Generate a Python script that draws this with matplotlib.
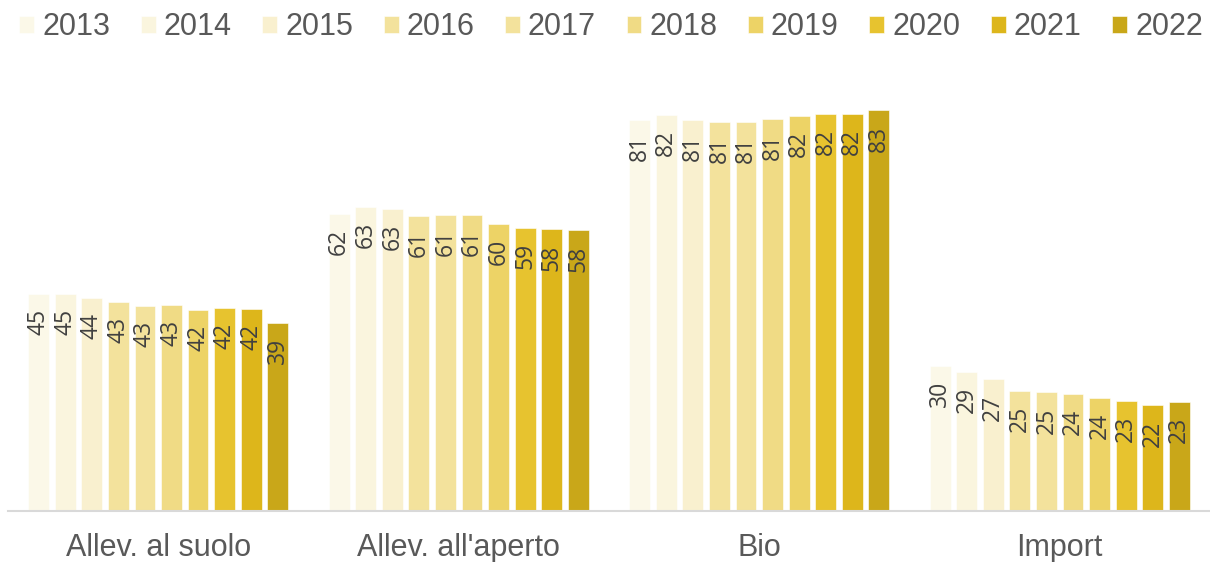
import matplotlib.pyplot as plt
import numpy as np

# categories and years
categories = ['Allev. al suolo', "Allev. all'aperto", 'Bio', 'Import']
years = ['2013', '2014', '2015', '2016', '2017', '2018', '2019', '2020', '2021', '2022']

# values (bar heights), labels are the rounded numbers
suolo = [45.0, 45.0, 44.1, 43.4, 42.5, 42.7, 41.7, 42.2, 41.9, 39.1]
aperto = [61.7, 63.1, 62.7, 61.3, 61.5, 61.5, 59.6, 58.7, 58.4, 58.2]
bio = [81.2, 82.1, 81.2, 80.8, 80.8, 81.4, 81.9, 82.4, 82.4, 83.1]
imp = [30.1, 28.8, 27.3, 24.9, 24.6, 24.2, 23.5, 22.8, 21.9, 22.6]

suolo_lbl = [45, 45, 44, 43, 43, 43, 42, 42, 42, 39]
aperto_lbl = [62, 63, 63, 61, 61, 61, 60, 59, 58, 58]
bio_lbl = [81, 82, 81, 81, 81, 81, 82, 82, 82, 83]
imp_lbl = [30, 29, 27, 25, 25, 24, 24, 23, 22, 23]

colors = ['#FBF8E8', '#FAF5DE', '#F9F0CF', '#F3E29C', '#F3E29C',
          '#F0DB85', '#EDD366', '#E7C32F', '#DDB61B', '#C9A719']

values = np.array([suolo, aperto, bio, imp])
labels = np.array([suolo_lbl, aperto_lbl, bio_lbl, imp_lbl])

plt.rcParams['font.family'] = ['Liberation Sans', 'DejaVu Sans']

fig = plt.figure(figsize=(12.1, 5.62), dpi=100)
ax = fig.add_axes([0.0066, 0.0907, 0.9934, 0.772])

x = np.arange(len(categories))
pitch = 0.0884
width = 0.0693
for j, yr in enumerate(years):
    pos = x + (j - 4.5) * pitch
    bars = ax.bar(pos, values[:, j], width, color=colors[j], label=yr,
                  edgecolor='white', linewidth=0.4)
    for b, lbl in zip(bars, labels[:, j]):
        ax.annotate(str(lbl), (b.get_x() + b.get_width() / 2, b.get_height()),
                    xytext=(0, -15), textcoords='offset pixels',
                    rotation=90, ha='center', va='top', fontsize=16.5,
                    color='#404040', family=['Open Sans', 'DejaVu Sans'])

ax.set_xlim(-0.5, 3.5)
ax.set_ylim(0, 90)
ax.set_xticks(x)
ax.set_xticklabels(categories, fontsize=22, color='#595959')
ax.tick_params(axis='x', length=0, pad=16)
ax.set_yticks([])
for s in ['top', 'right', 'left']:
    ax.spines[s].set_visible(False)
ax.spines['bottom'].set_color('#D9D9D9')
ax.spines['bottom'].set_linewidth(1.5)

fig.legend(loc='upper center', bbox_to_anchor=(0.505, 1.027), ncol=10,
           frameon=False, fontsize=22, handlelength=0.49, handleheight=0.49,
           handletextpad=0.26, columnspacing=1.0, labelcolor='#595959')

fig.savefig('out.png', dpi=100)
